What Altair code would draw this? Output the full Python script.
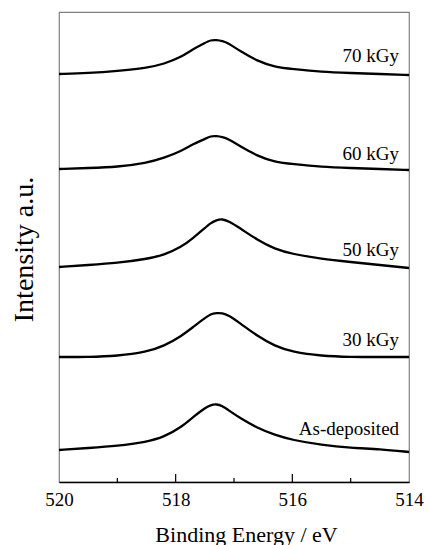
import altair as alt
import pandas as pd

# Binding energy grid (eV)
energy = [520, 519.5, 519, 518.5, 518.2, 517.9, 517.7, 517.5, 517.4, 517.3,
          517.2, 517.1, 516.9, 516.6, 516.3, 516.0, 515.5, 515, 514.5, 514]

# Offset intensities (a.u.)
int_asdep = [32, 34, 36, 40, 45, 55, 65, 74, 77, 78, 76, 72, 64, 54, 47, 42, 37, 34, 33, 30]
int_30 = [125, 125, 126, 130, 136, 146, 155, 164, 168, 169, 169, 167, 159, 146, 136, 130, 126, 125, 125, 125]
int_50 = [215, 217, 219, 223, 227, 235, 244, 254, 259, 262, 263, 261, 254, 242, 233, 228, 223, 220, 217, 214]
int_60 = [313, 314, 315, 319, 324, 331, 338, 343, 346, 346, 345, 343, 336, 326, 320, 318, 315, 314, 313, 312]
int_70 = [408, 409, 411, 414, 418, 425, 433, 439, 442, 442, 441, 439, 431, 421, 415, 413, 410, 409, 408, 407]

labels = ["As-deposited", "30 kGy", "50 kGy", "60 kGy", "70 kGy"]
label_y = [47, 136, 226, 322, 420]
label_x = 514.17

major_ticks = [518, 516]
minor_ticks = [519, 517, 515]
tick_labels = [520, 518, 516, 514]

series = [int_asdep, int_30, int_50, int_60, int_70]
rows = []
for name, vals in zip(labels, series):
    for e, v in zip(energy, vals):
        rows.append({"sample": name, "energy": e, "intensity": v})
df = pd.DataFrame(rows)

lab_df = pd.DataFrame({"label": labels, "y": label_y, "x": [label_x] * len(labels)})
major_df = pd.DataFrame({"e": major_ticks})
minor_df = pd.DataFrame({"e": minor_ticks})

FONT = "Liberation Serif"
xscale = alt.Scale(domain=[514, 520], reverse=True, nice=False, zero=False)
yscale = alt.Scale(domain=[0, 470], nice=False, zero=False)

lines = alt.Chart(df).mark_line(color="black", strokeWidth=2.3, interpolate="basis").encode(
    x=alt.X("energy:Q", scale=xscale,
            axis=alt.Axis(values=tick_labels, format="d", title="Binding Energy / eV",
                          ticks=False, grid=False, domainColor="black", domainWidth=1.5,
                          labelFont=FONT, labelFontSize=19, labelColor="black", labelPadding=8,
                          labelFlush=False,
                          titleFont=FONT, titleFontSize=22, titleFontWeight="normal",
                          titleColor="black", titleX=187, titleY=59,
                          titleBaseline="alphabetic", titleAlign="center")),
    y=alt.Y("intensity:Q", scale=yscale,
            axis=alt.Axis(ticks=False, labels=False, domain=False, grid=False,
                          title="Intensity a.u.", titleFont=FONT, titleFontSize=28,
                          titleFontWeight="normal", titleColor="black", titleAngle=270,
                          titleX=-35, titleY=237, titleAlign="center", titleBaseline="middle")),
    detail="sample:N",
)

major = alt.Chart(major_df).mark_rule(color="black", strokeWidth=1.2).encode(
    x=alt.X("e:Q", scale=xscale), y=alt.value(470), y2=alt.value(462))
minor = alt.Chart(minor_df).mark_rule(color="black", strokeWidth=1.2).encode(
    x=alt.X("e:Q", scale=xscale), y=alt.value(470), y2=alt.value(466))

text = alt.Chart(lab_df).mark_text(align="right", baseline="alphabetic", font=FONT,
                                   fontSize=19, color="black").encode(
    x=alt.X("x:Q", scale=xscale), y=alt.Y("y:Q", scale=yscale), text="label:N")

chart = alt.layer(lines, major, minor, text).properties(
    width=350, height=470,
    padding={"left": 59, "top": 12, "right": 21, "bottom": 63},
    autosize=alt.AutoSizeParams(type="none"),
).configure_view(stroke="#808080", strokeWidth=1.2)

chart.save("out.html", embed_options={"renderer": "svg", "actions": False})
